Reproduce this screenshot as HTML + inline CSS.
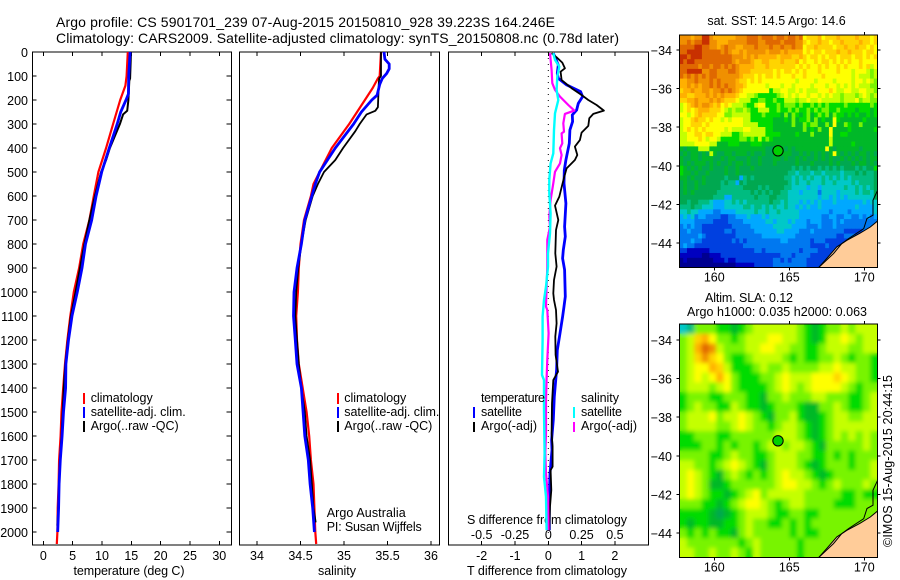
<!DOCTYPE html>
<html lang="en">
<head>
<meta charset="utf-8">
<title>Argo profile 5901701_239</title>
<style>
html,body{margin:0;padding:0;background:#fff;width:900px;height:580px;overflow:hidden}
svg{display:block;font-family:"Liberation Sans",Arial,sans-serif;fill:#000}
text{font-size:12.5px}
.t{font-size:14px}
</style>
</head>
<body>
<svg id="fig" width="900" height="580" viewBox="0 0 900 580" xmlns="http://www.w3.org/2000/svg">
<defs>
<filter id="soft" x="-5%" y="-5%" width="110%" height="110%"><feGaussianBlur stdDeviation="2.2"/></filter>
<clipPath id="clip-top"><rect x="679.5" y="35" width="198" height="232.5"/></clipPath>
<clipPath id="clip-bottom"><rect x="679.5" y="324" width="198" height="233.5"/></clipPath>
</defs>
<text class="t" x="56" y="27" textLength="499">Argo profile: CS 5901701_239 07-Aug-2015 20150810_928 39.223S 164.246E</text>
<text class="t" x="56" y="43" textLength="563">Climatology: CARS2009. Satellite-adjusted climatology: synTS_20150808.nc (0.78d later)</text>
<text x="776.5" y="25" text-anchor="middle">sat. SST: 14.5 Argo: 14.6</text>
<text x="705" y="302" textLength="88">Altim. SLA: 0.12</text>
<text x="687" y="316" textLength="180">Argo h1000: 0.035 h2000: 0.063</text>
<text transform="translate(892 547) rotate(-90)" textLength="172">©IMOS 15-Aug-2015 20:44:15</text>
</svg>
<script>
// ---------- temperature panel data ----------
const tempClimDepth = [0,100,140,200,300,400,500,600,700,800,900,1000,1100,1200,1300,1400,1500,1600,1700,1800,1900,2000,2050];
const tempClimValues = [14.4,14.2,14.0,13.1,11.9,10.7,9.4,8.6,7.85,6.8,6.1,5.2,4.6,4.1,3.7,3.4,3.1,2.95,2.7,2.6,2.45,2.4,2.3];
const tempSatDepth = [0,100,175,200,250,300,400,500,600,700,800,900,1000,1100,1200,1300,1400,1500,1600,1700,1800,1900,2000];
const tempSatValues = [14.8,14.55,14.5,14.1,13.2,12.6,11.25,9.95,9.0,8.25,7.2,6.6,5.8,4.9,4.3,3.85,3.8,3.45,3.2,2.9,2.7,2.6,2.45];
const tempArgoDepth = [0,110,120,200,245,260,300,350,400,450,500,600,700,800,900,1000,1100,1200,1300,1400,1500,1600,1700,1800,1900,1970,1990];
const tempArgoValues = [14.95,14.8,14.65,14.5,14.3,13.6,13.05,12.2,11.35,10.7,9.85,8.8,7.85,7.0,6.25,5.5,4.7,4.2,3.75,3.5,3.3,3.1,2.85,2.7,2.55,2.4,2.45];
// ---------- salinity panel data ----------
const salClimDepth = [0,100,110,150,200,300,400,500,550,600,700,800,900,1000,1100,1200,1300,1400,1500,1600,1700,1800,1900,2000,2050];
const salClimValues = [35.425,35.41,35.39,35.33,35.24,35.06,34.86,34.72,34.65,34.62,34.54,34.5,34.48,34.47,34.45,34.46,34.48,34.525,34.57,34.6,34.62,34.65,34.66,34.67,34.68];
const salSatDepth = [0,30,50,70,90,110,135,180,200,250,300,400,500,550,600,700,800,900,1000,1100,1200,1300,1400,1500,1600,1700,1800,1900,2000];
const salSatValues = [35.46,35.47,35.52,35.52,35.49,35.44,35.41,35.38,35.32,35.2,35.11,34.9,34.72,34.67,34.63,34.55,34.51,34.46,34.425,34.42,34.44,34.46,34.51,34.53,34.55,34.59,34.61,34.64,34.66];
const salArgoDepth = [0,100,110,130,230,245,260,300,330,400,450,500,550,600,700,800,900,1000,1100,1200,1300,1400,1500,1600,1700,1800,1900,1960];
const salArgoValues = [35.425,35.425,35.405,35.4,35.39,35.36,35.26,35.18,35.13,34.99,34.9,34.77,34.7,34.64,34.56,34.51,34.475,34.45,34.44,34.46,34.48,34.51,34.55,34.57,34.61,34.63,34.65,34.675];
// ---------- difference panel data ----------
const diffTSatDepth = [5,54,89,110,137,165,186,214,242,262,290,325,381,450,492,547,631,728,769,825,860,908,1019,1061,1103,1172,1242,1325,1436,1533,1617,1658,1756,1867,1992];
const diffTSatValues = [.15,.30,.27,.30,.55,.97,1.03,.90,.85,.72,.73,.65,.63,.53,.48,.47,.53,.49,.51,.45,.43,.49,.51,.47,.43,.35,.27,.25,.18,.15,.10,.11,.05,.03,.03];
const diffTArgoDepth = [5,22,44,68,82,117,151,179,200,221,244,258,276,308,336,367,394,429,450,485,519,547,603,640,700,742,839,894,950,1006,1033,1075,1131,1186,1262,1332,1367,1464,1589,1644,1728,1742,1825,1894,1992];
const diffTArgoValues = [.10,.25,.42,.50,.37,.40,.70,1.00,1.20,1.45,1.67,1.35,1.23,1.20,1.00,.95,.80,.87,.80,.55,.48,.43,.33,.20,.30,.23,.21,.25,.17,.15,.17,.23,.25,.21,.22,.29,.15,.11,.10,.13,.13,.07,.09,.05,.03];
const diffSArgoDepth = [5,75,130,158,186,221,244,258,297,332,339,381,401,429,464,499,547,617,686,728,783,894,978,1061,1075,1172,1283,1360,1450,1589,1672,1756,1853,1992];
const diffSArgoValues = [.0125,.025,.03,.05,.0875,.15,.195,.125,.1125,.1175,.10,.105,.0875,.10,.0875,.05,.0375,.0175,.0075,.0125,-.0075,-.0075,-.0125,-.0175,-.0075,.0025,-.0075,-.0125,-.0175,-.0175,-.0225,-.0175,-.0025,.0025];
const diffSSatDepth = [5,33,61,103,158,200,256,325,422,464,533,589,672,756,839,894,978,1033,1103,1200,1346,1367,1492,1672,1770,1853,1992];
const diffSSatValues = [.0375,.05,.0825,.0675,.0625,.075,.05,.0425,.0375,.0175,.0075,.0075,.0175,.0125,-.0025,-.0025,-.0175,-.0325,-.0425,-.0425,-.0475,-.0325,-.0325,-.0275,-.0325,-.0175,-.0125];
// ---------- tick labels ----------
const depthTicks = [0,100,200,300,400,500,600,700,800,900,1000,1100,1200,1300,1400,1500,1600,1700,1800,1900,2000];
const tempTicks = [0,5,10,15,20,25,30];
const salTicks = [34,34.5,35,35.5,36];
const diffTTicks = [-2,-1,0,1,2];
const diffSTicks = [-0.5,-0.25,0,0.25,0.5];
const lonTicks = [160,165,170];
const latTicks = [-34,-36,-38,-40,-42,-44];
// ---------- map data: each character is a colour level (base 36 index into the palette) ----------
const mapPalette = ['#000090','#0000c0','#0040e0','#0078f0','#00a8ff','#00c8c8','#00bc80','#00a850','#00b828','#00dc00','#78f400','#c4ff00','#ffff00','#ffd400','#ffb000','#f09000','#e06800','#c83000','#a80000'];
const sstRows = [
"fffeffhhfeeeeeefffgggfgggfggfggfgcdddecdddeddddedddcd",
"ffgfgghhffeeefffffgggffggggfgggffdcddeddcddeddddeddcd",
"gggghhggffefgffeefffgfffgffgffgffcddeddddcddeddeddcdc",
"gghhhhgggggfgfeefefffffefffefeeeecdcddcdddeddedddcddc",
"hhghhhggggggggfffefefeeeeedeeeddedcddcdcddcdddcddcdcd",
"hghhggggggggggfefffeddeedddedddecdccdcddcdcdcdccdcccc",
"gggggfggfggfgfgfeeeedddedddddddcdcdccdcdccdcdcccdcdbc",
"gghhhhffggfffggfeeeddddddcdcddcdcdcccdccccdcccbcccbab",
"gfgfgfgfggffffffedddcdcddcdcccdccdccccdcccccccbcbbbab",
"eeffgfffgfgffffeddcdcdcccccccccbccccbccccbccccbccbcba",
"eefefeffgfgfgffeedcccccbcccbccbccccbcccbccbcbcbcbbbaa",
"deefeeffeffgfgfedccccccc9bbccbbcbcbbbcccdcbbccbbccbba",
"eeddeeefefefeeedccbba99999abcbcbccbccbcbcbbabbbabcbab",
"ddeefeeefefedddcbbb99aa99a99bbbabbcbbcbbbbbabbbcabbaa",
"bcdefeffedecdcbbba99bcc999a9aaa9a99a9a9a9999a999999a9",
"bcdcdeeedddcbabaaba99bbb99a99a9a99a9a9aa99a9999899989",
"ccbcdeddddccaabbbbb999a99998a8a989a89a9a8a99898988989",
"bccdeddcdccbcbcccbb99999988898a899a8a8988c98888889888",
"bccdddcdcccccccccbbbb999988888a88a9aa88a8c88a988a8888",
"bcdcdcdcccccbcbbbccbbbb9988888888a898a88c888898888889",
"bbccddcddccbbb99abbbbbb999988889888a8888c889988888888",
"bbcccdcbccb99999aa9a9b9a9888888888888888b888888888888",
"bbbbccccbb888999888999888888888888888888b888889888888",
"87888bbb8888888888888887778878788888888c8788888878888",
"78788787b87788788878778778888877878787878c87878788787",
"87788788877878877787787778878778787787878778787878788",
"87878887878778788787787778777778777877778787778788787",
"98787877877787787778777777777767676776767676777676779",
"98878778777787787777777777777665666566566665666767667",
"88787787777767774676777777776656565655656565656666667",
"78778787777676647677777777777656556555655655556566667",
"78778777777666666777767677776655554554555555655656567",
"78787777776666666667676767766555455553555545555656657",
"77777777766644666666766677666555555554554545455555557",
"77677666544455656566666676656555454545444544444445455",
"66676655544455555665665656556554545445444444444544445",
"55655444433444455555655655655555444444443444434444445",
"45453443333223344454445455555555444444334433443343434",
"44443333322223333444444554555454443444333434333333333",
"34343322222222333334444445555544443334333433333333333",
"33433322222233233333444444554444333433333333222223333",
"33333432222222233333334444444443333333333322333223333",
"33343322222222323233333333344333333233322222233333333",
"34332222222222222333333333333333333222232222222222222",
"22111111222222222222332333333333233332222222222222222",
"11111100111222222222222222233323333222222222222222222",
"01000000011121122222222223323233332222222222222222222",
"00000000000000011111222223333333332222222222222222222"
];
const slaRows = [
"56aaa9989abbbbbba989aababbb",
"abdecaa9abbbccbba989bbcbabb",
"abegfbaaabbccbbaa99abbbaabb",
"abdfdca99abbbba9a99aaba9aa9",
"abccedb999abaabaaaabbcbbaa9",
"abcbceca999aabcbbbcccdcbaa9",
"abbbabca9999abcbabccccba9aa",
"9aaa99aaa998aabaaabbaaa99ab",
"9abaa99ba9989aaa988aaba99ab",
"abbbcabbcba98aab9889abbaabb",
"abbbbaabcbaa9abba989abbbbbb",
"99aaa99aaaaaabbba989abababa",
"999aa9a9aa9abbabba98aaaaaba",
"aaaa99abaa99abbbaa99a9a9aaa",
"bbaa9abcba98abbba989aaa9aab",
"bcba98aba9a9abcbba989aaaaab",
"bcba889aaaaaabccbba9abaaaba",
"bcba9989abcabbbbbaaaaa99a99",
"aaa9989abccba9abbaaaa999aaa",
"99998789abbba99aa99aaaaaaaa",
"98998899abaa99a9a9aaaaaaaaa",
"a9a9a998abaaaaa9a99aaaaaaaa",
"baaaaaaa9abaaaaa9aaaaaaaaaa",
"bbaabaaba9baaaaa9aaaaaaaaaa"
];
const landLon = [166.95,167.5,168.17,168.84,169.7,170.4,170.9,171.2,171.2];
const landLat = [-45.28,-44.8,-44.2,-43.86,-43.5,-43.17,-42.85,-42.85,-45.6];
const shelfLon = [170.89,170.58,170.58,170.18,169.96,168.95,168.5,167.95,166.95];
const shelfLat = [-41.27,-41.78,-42.56,-42.73,-43.26,-43.77,-44.03,-44.55,-45.28];
const argoLon = 164.246;
const argoLat = -39.223;

// ---------- axis functions ----------
const NS = 'http://www.w3.org/2000/svg';
const fig = document.getElementById('fig');
const yDepth = d => 52 + 0.24 * d;
const xTemp = v => 43.3 + 5.867 * v;
const xSal = v => 257 + 87 * (v - 34);
const xDiffT = v => 548.3 + 33.3 * v;
const xDiffS = v => 548.3 + 133.2 * v;
const xLon = v => 714.3 + 15 * (v - 160);
const yLatTop = v => 50 + 19.3 * (-34 - v);
const yLatBottom = v => 340 + 19.3 * (-34 - v);

function make(tag, parent, attrs) {
  const el = document.createElementNS(NS, tag);
  for (const k in attrs) el.setAttribute(k, attrs[k]);
  parent.appendChild(el);
  return el;
}
function label(x, y, str, anchor, name, width) {
  const el = make('text', fig, {x: x, y: y, 'text-anchor': anchor});
  
  
  if (width) el.setAttribute('textLength', width);
  el.textContent = str;
  return el;
}
function tick(x1, y1, x2, y2, name) {
  const el = make('line', fig, {x1: x1, y1: y1, x2: x2, y2: y2, stroke: '#000', 'stroke-width': 1, 'shape-rendering': 'crispEdges'});
  
  
}
function frame(x, y, w, h, name) {
  const el = make('rect', fig, {x: x, y: y, width: w, height: h, fill: 'none', stroke: '#000', 'stroke-width': 1, 'shape-rendering': 'crispEdges'});
  
  
}
function profile(depths, values, xFn, color, width, name) {
  const pts = depths.map((d, i) => xFn(values[i]).toFixed(1) + ',' + yDepth(d).toFixed(1)).join(' ');
  const el = make('polyline', fig, {points: pts, fill: 'none', stroke: color, 'stroke-width': width, 'stroke-linejoin': 'round'});
  
  
}
function legendBar(x, y, h, color, name) {
  const el = make('rect', fig, {x: x, y: y, width: 2, height: h, fill: color, 'shape-rendering': 'crispEdges'});
  
  
}

// ---------- profile panels ----------
const panelTop = 52, panelBottom = 545;
frame(32.5, panelTop, 199, panelBottom - panelTop, 'temperature-panel-frame');
frame(239.5, panelTop, 200, panelBottom - panelTop, 'salinity-panel-frame');
frame(448.5, panelTop, 200, panelBottom - panelTop, 'difference-panel-frame');

depthTicks.forEach(d => {
  const y = yDepth(d);
  label(28, y + 5, String(d), 'end', 'depth-tick-label');
  if (d > 0) {
    tick(32.5, y, 36.5, y, 'depth-tick-left');
    tick(226.5, y, 231.5, y, 'depth-tick-right');
  }
});
tempTicks.forEach(v => {
  const x = xTemp(v);
  tick(x, panelTop, x, panelTop + 4, 'temperature-tick-top');
  tick(x, panelBottom - 4, x, panelBottom, 'temperature-tick-bottom');
  label(x, 560, String(v), 'middle', 'temperature-tick-label');
});
salTicks.forEach(v => {
  const x = xSal(v);
  tick(x, panelTop, x, panelTop + 4, 'salinity-tick-top');
  tick(x, panelBottom - 4, x, panelBottom, 'salinity-tick-bottom');
  label(x, 560, String(v), 'middle', 'salinity-tick-label');
});
diffTTicks.forEach(v => {
  const x = xDiffT(v);
  tick(x, panelTop, x, panelTop + 4, 'diff-t-tick-top');
  tick(x, panelBottom - 4, x, panelBottom, 'diff-t-tick-bottom');
  label(x, 560, String(v), 'middle', 'diff-t-tick-label');
});
diffSTicks.forEach(v => {
  label(xDiffS(v), 539, String(v), 'middle', 'diff-s-tick-label');
});

label(129, 575, 'temperature (deg C)', 'middle', 'temperature-axis-title', 111);
label(337, 575, 'salinity', 'middle', 'salinity-axis-title', 38);
label(547, 575, 'T difference from climatology', 'middle', 'diff-t-axis-title', 160);
label(547, 524, 'S difference from climatology', 'middle', 'diff-s-axis-title', 160);

profile(tempClimDepth, tempClimValues, xTemp, '#ff0000', 2.2, 'temperature-climatology-line');
profile(tempArgoDepth, tempArgoValues, xTemp, '#000000', 2, 'temperature-argo-line');
profile(tempSatDepth, tempSatValues, xTemp, '#0000ff', 2.8, 'temperature-satellite-line');
profile(salClimDepth, salClimValues, xSal, '#ff0000', 2.2, 'salinity-climatology-line');
profile(salArgoDepth, salArgoValues, xSal, '#000000', 1.8, 'salinity-argo-line');
profile(salSatDepth, salSatValues, xSal, '#0000ff', 2.8, 'salinity-satellite-line');

const zeroLine = make('line', fig, {x1: xDiffT(0), y1: panelTop, x2: xDiffT(0), y2: panelBottom, stroke: '#000', 'stroke-width': 1, 'stroke-dasharray': '1 5'});



profile(diffTSatDepth, diffTSatValues, xDiffT, '#0000ff', 2.8, 'diff-t-satellite-line');
profile(diffTArgoDepth, diffTArgoValues, xDiffT, '#000000', 1.8, 'diff-t-argo-line');
profile(diffSArgoDepth, diffSArgoValues, xDiffS, '#ff00ff', 2.2, 'diff-s-argo-line');
profile(diffSSatDepth, diffSSatValues, xDiffS, '#00ffff', 2.4, 'diff-s-satellite-line');

// ---------- legends ----------
[[83, 90.7], [337, 344.3]].forEach(p => {
  legendBar(p[0], 393, 11, '#ff0000', 'legend-bar-climatology');
  legendBar(p[0], 407, 11, '#0000ff', 'legend-bar-satellite');
  legendBar(p[0], 421, 11, '#000000', 'legend-bar-argo');
  label(p[1], 402, 'climatology', 'start', 'legend-climatology', 62);
  label(p[1], 416, 'satellite-adj. clim.', 'start', 'legend-satellite-adj', 95);
  label(p[1], 430, 'Argo(..raw -QC)', 'start', 'legend-argo-raw', 88);
});
label(326.7, 517, 'Argo Australia', 'start', 'argo-australia-note', 79);
label(326.7, 531, 'PI: Susan Wijffels', 'start', 'principal-investigator-note', 95);
label(481, 402, 'temperature', 'start', 'legend-temperature-heading', 64);
label(481, 416, 'satellite', 'start', 'legend-t-satellite', 41);
label(481, 430, 'Argo(-adj)', 'start', 'legend-t-argo', 56);
label(581, 402, 'salinity', 'start', 'legend-salinity-heading', 38);
label(581, 416, 'satellite', 'start', 'legend-s-satellite', 41);
label(581, 430, 'Argo(-adj)', 'start', 'legend-s-argo', 56);
legendBar(473, 407, 11, '#0000ff', 'legend-bar-t-satellite');
legendBar(473, 422, 10, '#000000', 'legend-bar-t-argo');
legendBar(573, 407, 11, '#00ffff', 'legend-bar-s-satellite');
legendBar(573, 422, 10, '#ff00ff', 'legend-bar-s-argo');

// ---------- maps ----------
const mapLeft = 679.5, mapRight = 877.5;
function cells(parent, rows, nCols, top, bottom, name) {
  const cw = (mapRight - mapLeft) / nCols, ch = (bottom - top) / rows.length;
  rows.forEach((row, r) => {
    for (let c = 0; c < nCols; c++) {
      const level = parseInt(row[Math.min(c, row.length - 1)], 36);
      const rect = make('rect', parent, {x: (mapLeft + c * cw).toFixed(2), y: (top + r * ch).toFixed(2), width: (cw + 0.4).toFixed(2), height: (ch + 0.4).toFixed(2), fill: mapPalette[level]});
      
      
    }
  });
}
function drawMap(clip, rows, nCols, top, bottom, yLat, smooth, prefix) {
  const g = make('g', fig, {'clip-path': 'url(#' + clip + ')'});
  
  
  cells(g, rows, nCols, top, bottom, prefix + '-cell');
  if (smooth) {
    const blur = make('g', g, {filter: 'url(#soft)'});
    
    
    cells(blur, rows, nCols, top, bottom, prefix + '-smooth-cell');
  }
  const land = make('polygon', g, {points: landLon.map((v, i) => xLon(v).toFixed(1) + ',' + yLat(landLat[i]).toFixed(1)).join(' '), fill: '#ffcc99', stroke: '#000', 'stroke-width': 1});
  
  
  const shelf = make('polyline', g, {points: shelfLon.map((v, i) => xLon(v).toFixed(1) + ',' + yLat(shelfLat[i]).toFixed(1)).join(' '), fill: 'none', stroke: '#000', 'stroke-width': 1});
  
  
  frame(mapLeft, top, mapRight - mapLeft, bottom - top, prefix + '-map-frame');
  const marker = make('circle', fig, {cx: xLon(argoLon), cy: yLat(argoLat), r: 5.2, fill: '#00d000', stroke: '#000', 'stroke-width': 1});
  
  
  lonTicks.forEach(v => {
    const x = xLon(v);
    tick(x, top - 3, x, top, prefix + '-lon-tick-top');
    tick(x, bottom, x, bottom + 3, prefix + '-lon-tick-bottom');
    label(x, bottom + 14, String(v), 'middle', prefix + '-lon-label');
  });
  latTicks.forEach(v => {
    const y = yLat(v);
    tick(mapLeft - 3, y, mapLeft, y, prefix + '-lat-tick-left');
    tick(mapRight, y, mapRight + 3, y, prefix + '-lat-tick-right');
    label(672, y + 5, String(v).replace('-', '\u2212'), 'end', prefix + '-lat-label');
  });
}
drawMap('clip-top', sstRows, 53, 35, 267.5, yLatTop, false, 'sst');
drawMap('clip-bottom', slaRows, 27, 324, 557.5, yLatBottom, true, 'sla');
</script>
</body>
</html>
